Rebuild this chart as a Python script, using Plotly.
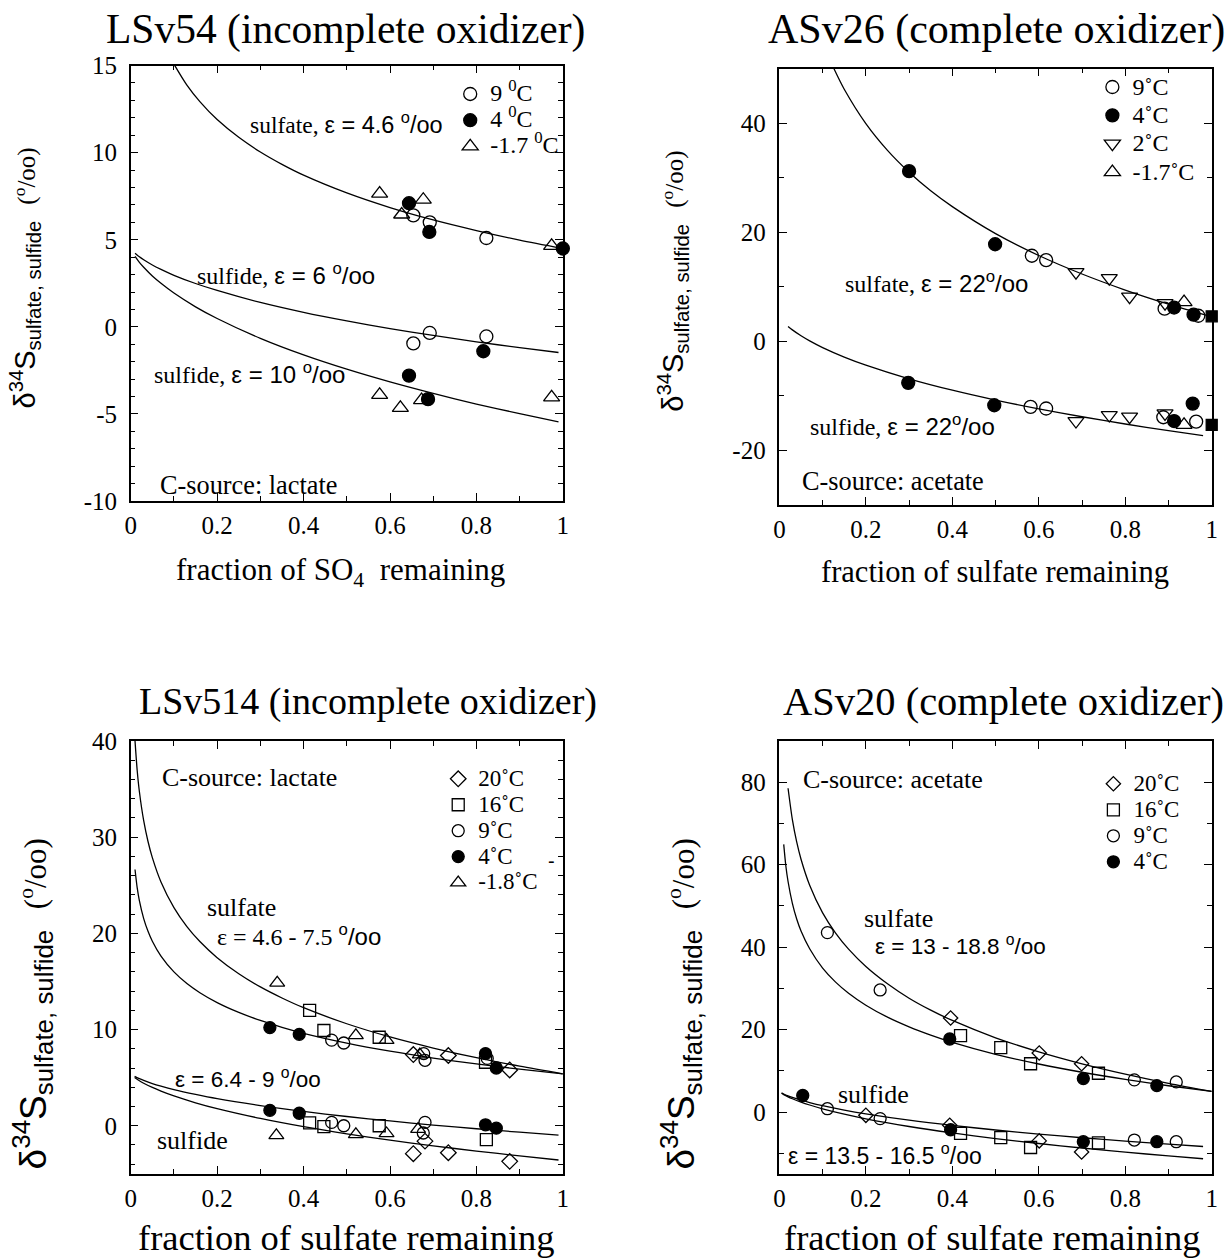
import plotly.graph_objects as go

W, H = 1232, 1259
SERIF = "Liberation Serif"
SANS = "Liberation Sans"
# observed page -> picture mapping of the photographing step (measured): pic = S*fig + B
SH, BH = 0.990, 6.3
SV, BV = 0.9774, 12.5

# ================= DATA =================
# ---- Panel A: LSv54 (incomplete oxidizer), sulfate then sulfide points ----
A_9C_f = [0.654, 0.692, 0.823, 0.654, 0.692, 0.823]
A_9C_d = [6.4, 6.0, 5.1, -0.95, -0.35, -0.55]
A_4C_f = [0.644, 0.691, 1.0, 0.644, 0.688, 0.816]
A_4C_d = [7.1, 5.45, 4.5, -2.8, -4.15, -1.4]
A_m17C_f = [0.576, 0.627, 0.677, 0.974, 0.576, 0.624, 0.673, 0.974]
A_m17C_d = [7.65, 6.45, 7.3, 4.65, -3.9, -4.65, -4.2, -4.05]
# curves
A_sulfate_f = [0.102, 0.13, 0.16, 0.2, 0.25, 0.3, 0.35, 0.4, 0.5, 0.6, 0.7, 0.8, 0.9, 1.0]
A_sulfate_d = [15.0, 13.88, 12.93, 11.90, 10.88, 10.04, 9.33, 8.71, 7.69, 6.85, 6.14, 5.53, 4.98, 4.5]
A_sulfide_f = [0.01, 0.02, 0.03, 0.05, 0.07, 0.1, 0.15, 0.2, 0.3, 0.4, 0.5, 0.6, 0.7, 0.8, 0.9, 0.99]
A_sulfide6_d = [4.22, 4.02, 3.85, 3.55, 3.30, 2.96, 2.49, 2.09, 1.40, 0.83, 0.34, -0.10, -0.49, -0.86, -1.19, -1.47]
A_sulfide10_d = [4.04, 3.70, 3.42, 2.92, 2.50, 1.94, 1.15, 0.48, -0.66, -1.61, -2.43, -3.16, -3.82, -4.43, -4.98, -5.45]

# ---- Panel B: ASv26 (complete oxidizer) ----
B_9C_f = [0.584, 0.617, 0.891, 0.969, 0.581, 0.617, 0.888, 0.964]
B_9C_d = [15.7, 14.9, 6.0, 4.7, -12.0, -12.3, -13.9, -14.7]
B_4C_f = [0.300, 0.499, 0.913, 0.958, 0.298, 0.497, 0.913, 0.956]
B_4C_d = [31.2, 17.8, 6.2, 4.9, -7.6, -11.7, -14.6, -11.4]
B_2C_f = [0.686, 0.763, 0.810, 0.892, 0.686, 0.763, 0.810, 0.892]
B_2C_d = [12.7, 11.6, 8.2, 7.0, -14.6, -13.5, -13.8, -13.2]
B_m17C_f = [0.936, 0.936]
B_m17C_d = [7.2, -15.3]
B_init_f = [1.0, 1.0]
B_init_d = [4.6, -15.3]
B_sulfate_f = [0.126, 0.15, 0.2, 0.25, 0.3, 0.35, 0.4, 0.5, 0.6, 0.7, 0.8, 0.9, 1.0]
B_sulfate_d = [50.0, 46.2, 39.9, 35.0, 31.0, 27.6, 24.7, 19.75, 15.74, 12.35, 9.41, 6.82, 4.5]
B_sulfide_f = [0.02, 0.03, 0.05, 0.07, 0.1, 0.15, 0.2, 0.3, 0.4, 0.5, 0.6, 0.7, 0.8, 0.9, 0.98]
B_sulfide_d = [2.74, 2.11, 1.03, 0.10, -1.13, -2.87, -4.35, -6.85, -8.94, -10.75, -12.36, -13.81, -15.14, -16.36, -17.28]

# ---- Panel C: LSv514 (incomplete oxidizer) ----
C_20C_f = [0.654, 0.735, 0.877, 0.654, 0.681, 0.735, 0.877]
C_20C_d = [7.4, 7.3, 5.8, -2.9, -1.6, -2.8, -3.7]
C_16C_f = [0.414, 0.447, 0.575, 0.821, 0.414, 0.447, 0.575, 0.823]
C_16C_d = [12.0, 9.9, 9.2, 6.6, 0.3, -0.1, 0.0, -1.45]
C_9C_f = [0.465, 0.493, 0.678, 0.681, 0.825, 0.465, 0.493, 0.681, 0.677]
C_9C_d = [8.9, 8.6, 7.5, 6.8, 7.0, 0.35, 0.0, 0.35, -0.75]
C_4C_f = [0.322, 0.390, 0.821, 0.846, 0.322, 0.390, 0.821, 0.846]
C_4C_d = [10.2, 9.5, 7.5, 6.0, 1.6, 1.3, 0.1, -0.25]
C_m18C_f = [0.339, 0.521, 0.592, 0.669, 0.337, 0.521, 0.592, 0.665]
C_m18C_d = [14.85, 9.4, 8.9, 7.4, -1.0, -0.9, -0.8, -0.35]
C_sulfate_f = [0.0099, 0.015, 0.02, 0.03, 0.04, 0.05, 0.07, 0.1, 0.13, 0.16, 0.2, 0.25, 0.3, 0.35, 0.4, 0.5, 0.6, 0.7, 0.8, 0.9, 1.0]
C_sulfate75_d = [40.0, 36.9, 34.74, 31.70, 29.54, 27.87, 25.34, 22.67, 20.70, 19.15, 17.47, 15.80, 14.43, 13.28, 12.27, 10.60, 9.23, 8.08, 7.07, 6.19, 5.4]
C_sulfate46_d = [26.63, 24.72, 23.40, 21.53, 20.21, 19.18, 17.63, 15.99, 14.78, 13.83, 12.80, 11.78, 10.94, 10.23, 9.61, 8.59, 7.75, 7.04, 6.43, 5.88, 5.4]
C_sulfide_f = [0.009, 0.02, 0.03, 0.05, 0.07, 0.1, 0.15, 0.2, 0.3, 0.4, 0.5, 0.6, 0.7, 0.8, 0.9, 0.99]
C_sulfide64_d = [5.13, 4.89, 4.71, 4.39, 4.12, 3.76, 3.26, 2.82, 2.10, 1.49, 0.96, 0.50, 0.07, -0.31, -0.67, -0.97]
C_sulfide9_d = [5.02, 4.68, 4.42, 3.98, 3.60, 3.10, 2.39, 1.78, 0.76, -0.10, -0.84, -1.50, -2.09, -2.63, -3.13, -3.56]

# ---- Panel D: ASv20 (complete oxidizer) ----
D_20C_f = [0.396, 0.601, 0.699, 0.200, 0.394, 0.601, 0.699]
D_20C_d = [22.8, 14.3, 11.7, -0.8, -3.2, -7.0, -9.7]
D_16C_f = [0.419, 0.512, 0.581, 0.738, 0.419, 0.512, 0.581, 0.738]
D_16C_d = [18.5, 15.6, 11.7, 9.4, -5.2, -6.2, -8.6, -7.5]
D_9C_f = [0.111, 0.233, 0.821, 0.918, 0.111, 0.233, 0.821, 0.918]
D_9C_d = [43.5, 29.6, 7.8, 7.3, 0.8, -1.6, -6.8, -7.2]
D_4C_f = [0.394, 0.703, 0.873, 0.054, 0.396, 0.703, 0.873]
D_4C_d = [17.7, 8.1, 6.4, 4.0, -4.3, -7.2, -7.2]
D_sulfate188_f = [0.02, 0.03, 0.04, 0.05, 0.07, 0.1, 0.13, 0.16, 0.2, 0.25, 0.3, 0.35, 0.4, 0.5, 0.6, 0.7, 0.8, 0.9, 1.0]
D_sulfate188_d = [78.5, 70.9, 65.5, 61.3, 55.0, 48.3, 43.4, 39.5, 35.3, 31.1, 27.6, 24.7, 22.2, 18.0, 14.6, 11.7, 9.2, 6.97, 5.0]
D_sulfate13_f = [0.01, 0.015, 0.02, 0.03, 0.04, 0.05, 0.07, 0.1, 0.13, 0.16, 0.2, 0.25, 0.3, 0.35, 0.4, 0.5, 0.6, 0.7, 0.8, 0.9, 1.0]
D_sulfate13_d = [64.9, 59.6, 55.9, 50.6, 46.8, 43.9, 39.6, 34.9, 31.5, 28.8, 25.9, 23.0, 20.65, 18.65, 16.9, 14.0, 11.64, 9.64, 7.90, 6.37, 5.0]
D_sulfide_f = [0.005, 0.01, 0.02, 0.03, 0.05, 0.07, 0.1, 0.15, 0.2, 0.3, 0.4, 0.5, 0.6, 0.7, 0.8, 0.9, 0.98]
D_sulfide135_d = [4.64, 4.37, 3.92, 3.54, 2.87, 2.30, 1.55, 0.48, -0.43, -1.97, -3.25, -4.36, -5.34, -6.24, -7.05, -7.80, -8.36]
D_sulfide165_d = [4.56, 4.23, 3.68, 3.21, 2.40, 1.70, 0.78, -0.52, -1.64, -3.51, -5.08, -6.44, -7.64, -8.73, -9.73, -10.65, -11.33]

# tick labels
X_TICKS = [0, 0.2, 0.4, 0.6, 0.8, 1]
X_TICKTEXT = ["0", "0.2", "0.4", "0.6", "0.8", "1"]
A_YTICKS = [-10, -5, 0, 5, 10, 15]
B_YTICKS = [-20, 0, 20, 40]
C_YTICKS = [0, 10, 20, 30, 40]
D_YTICKS = [0, 20, 40, 60, 80]

# ================= FIGURE =================
fig = go.Figure()


def fx(t):
    return (t - BH) / SH


def fy(t):
    return (t - BV) / SV


def px2x(t):
    return fx(t) / W


def py2y(t):
    return 1 - fy(t) / H


def curve(xs, ys, ax):
    fig.add_trace(go.Scatter(x=xs, y=ys, mode="lines", xaxis=ax[0], yaxis=ax[1],
                             line=dict(color="black", width=1.3, shape="spline", smoothing=0.8),
                             showlegend=False, hoverinfo="skip"))


def pts(xs, ys, ax, symbol, size, name, legend, show=True):
    fig.add_trace(go.Scatter(x=xs, y=ys, mode="markers", xaxis=ax[0], yaxis=ax[1],
                             marker=dict(symbol=symbol, size=size, color="black",
                                         line=dict(color="black", width=1.3)),
                             name=name, legend=legend, showlegend=show, cliponaxis=False))


AX_A, AX_B, AX_C, AX_D = ("x", "y"), ("x2", "y2"), ("x3", "y3"), ("x4", "y4")

# Panel A
curve(A_sulfate_f, A_sulfate_d, AX_A)
curve(A_sulfide_f, A_sulfide6_d, AX_A)
curve(A_sulfide_f, A_sulfide10_d, AX_A)
deg0 = '<span style="font-size:24px">%s <sup>0</sup>C</span>'
pts(A_9C_f, A_9C_d, AX_A, "circle-open", 13, deg0 % "9", "legend")
pts(A_4C_f, A_4C_d, AX_A, "circle", 13, deg0 % "4", "legend")
pts(A_m17C_f, A_m17C_d, AX_A, "triangle-up-open", 14, deg0 % "-1.7", "legend")

# Panel B
degr = '<span style="font-size:24px">%s˚C</span>'
curve(B_sulfate_f, B_sulfate_d, AX_B)
curve(B_sulfide_f, B_sulfide_d, AX_B)
pts(B_9C_f, B_9C_d, AX_B, "circle-open", 13, degr % "9", "legend2")
pts(B_4C_f, B_4C_d, AX_B, "circle", 13, degr % "4", "legend2")
pts(B_2C_f, B_2C_d, AX_B, "triangle-down-open", 14, degr % "2", "legend2")
pts(B_m17C_f, B_m17C_d, AX_B, "triangle-up-open", 14, degr % "-1.7", "legend2")
pts(B_init_f, B_init_d, AX_B, "square", 11, "initial", "legend2", show=False)

# Panel C
degc = '<span style="font-size:23px">%s˚C</span>'
curve(C_sulfate_f, C_sulfate75_d, AX_C)
curve(C_sulfate_f, C_sulfate46_d, AX_C)
curve(C_sulfide_f, C_sulfide64_d, AX_C)
curve(C_sulfide_f, C_sulfide9_d, AX_C)
pts(C_20C_f, C_20C_d, AX_C, "diamond-open", 12, degc % "20", "legend3")
pts(C_16C_f, C_16C_d, AX_C, "square-open", 12, degc % "16", "legend3")
pts(C_9C_f, C_9C_d, AX_C, "circle-open", 12, degc % "9", "legend3")
pts(C_4C_f, C_4C_d, AX_C, "circle", 12, degc % "4", "legend3")
pts(C_m18C_f, C_m18C_d, AX_C, "triangle-up-open", 13, degc % "-1.8", "legend3")

# Panel D
curve(D_sulfate188_f, D_sulfate188_d, AX_D)
curve(D_sulfate13_f, D_sulfate13_d, AX_D)
curve(D_sulfide_f, D_sulfide135_d, AX_D)
curve(D_sulfide_f, D_sulfide165_d, AX_D)
pts(D_20C_f, D_20C_d, AX_D, "diamond-open", 11, degc % "20", "legend4")
pts(D_16C_f, D_16C_d, AX_D, "square-open", 12, degc % "16", "legend4")
pts(D_9C_f, D_9C_d, AX_D, "circle-open", 12, degc % "9", "legend4")
pts(D_4C_f, D_4C_d, AX_D, "circle", 12, degc % "4", "legend4")


def xaxis(px0, px1, anchor):
    return dict(domain=[px2x(px0), px2x(px1)], anchor=anchor, range=[0, 1],
                tickmode="array", tickvals=X_TICKS, ticktext=X_TICKTEXT,
                showline=True, linecolor="black", linewidth=1.5, mirror="ticks",
                ticks="inside", ticklen=8, tickwidth=1.2, tickcolor="black",
                showgrid=False, zeroline=False, ticklabelstandoff=1,
                tickfont=dict(family=SERIF, size=25, color="black"),
                minor=dict(tick0=0, dtick=0.1, ticks="inside", ticklen=5, tickwidth=1.2,
                           tickcolor="black", showgrid=False))


def yaxis(py0, py1, anchor, rng, tv, mdt):
    return dict(domain=[py2y(py1), py2y(py0)], anchor=anchor, range=rng,
                tickmode="array", tickvals=tv, ticktext=[str(v) for v in tv],
                showline=True, linecolor="black", linewidth=1.5, mirror="ticks",
                ticks="inside", ticklen=8, tickwidth=1.2, tickcolor="black",
                showgrid=False, zeroline=False, ticklabelstandoff=7,
                tickfont=dict(family=SERIF, size=25, color="black"),
                minor=dict(tick0=0, dtick=mdt, ticks="inside", ticklen=5, tickwidth=1.2,
                           tickcolor="black", showgrid=False))


ann = []


def txt(x, y, text, xref, yref, size=25, family=SERIF, xanchor="left", angle=0):
    ann.append(dict(x=x, y=y, xref=xref, yref=yref, text=text, showarrow=False,
                    xanchor=xanchor, yanchor="middle", textangle=angle,
                    font=dict(family=family, size=size, color="black")))


SA = '<span style="font-family:Liberation Sans">%s</span>'
PERMIL = "<sup>o</sup>/oo"

# panel titles
txt(px2x(346), py2y(29), "LSv54 (incomplete oxidizer)", "paper", "paper", 41.5, xanchor="center")
txt(px2x(997), py2y(29), "ASv26 (complete oxidizer)", "paper", "paper", 42, xanchor="center")
txt(px2x(368), py2y(700), "LSv514 (incomplete oxidizer)", "paper", "paper", 38, xanchor="center")
txt(px2x(1004), py2y(700), "ASv20 (complete oxidizer)", "paper", "paper", 40.5, xanchor="center")

# x titles
txt(px2x(341), py2y(571), "fraction of SO<sub>4</sub>  remaining", "paper", "paper", 31, xanchor="center")
txt(px2x(995), py2y(571), "fraction of sulfate remaining", "paper", "paper", 30.5, xanchor="center")
txt(px2x(347), py2y(1236), "fraction of sulfate remaining", "paper", "paper", 36.5, xanchor="center")
txt(px2x(993), py2y(1236), "fraction of sulfate remaining", "paper", "paper", 36.5, xanchor="center")

# y titles
YT_TOP = ('δ<sup>34</sup>S<sub>sulfate, sulfide</sub>  '
          '<span style="font-family:Liberation Serif;font-size:25px">(' + PERMIL + ')</span>')
YT_BOT = ('δ<sup>34</sup>S<sub>sulfate, sulfide</sub>  '
          '<span style="font-family:Liberation Serif;font-size:31px">(' + PERMIL + ')</span>')
txt(px2x(25), py2y(277), YT_TOP, "paper", "paper", 29, SANS, "center", -90)
txt(px2x(673), py2y(280), YT_TOP, "paper", "paper", 29, SANS, "center", -90)
txt(px2x(33), py2y(1002), YT_BOT, "paper", "paper", 37, SANS, "center", -90)
txt(px2x(681), py2y(1002), YT_BOT, "paper", "paper", 37, SANS, "center", -90)

# in-plot labels, panel A
txt(0.2716, 11.7, "sulfate, " + SA % ("ε = 4.6 " + PERMIL), "x", "y", 23.5)
txt(0.148, 3.05, "sulfide, " + SA % ("ε = 6 " + PERMIL), "x", "y", 24)
txt(0.050, -2.65, "sulfide, " + SA % ("ε = 10 " + PERMIL), "x", "y", 24)
txt(0.063, -9.1, "C-source: lactate", "x", "y", 26.3)
# panel B
txt(0.147, 10.8, "sulfate, " + SA % ("ε = 22" + PERMIL), "x2", "y2", 24)
txt(0.066, -15.3, "sulfide, " + SA % ("ε = 22" + PERMIL), "x2", "y2", 24)
txt(0.047, -25.6, "C-source: acetate", "x2", "y2", 26.3)
# panel C
txt(0.067, 36.2, "C-source: lactate", "x3", "y3", 26)
txt(0.171, 22.7, "sulfate", "x3", "y3", 26)
txt(0.194, 19.8, "ε = 4.6 - 7.5 " + SA % PERMIL, "x3", "y3", 24)
txt(0.097, 5.0, SA % ("ε = 6.4 - 9 " + PERMIL), "x3", "y3", 22.5)
txt(0.056, -1.5, "sulfide", "x3", "y3", 26)
txt(0.962, 27.5, "-", "x3", "y3", 20, SANS)
# panel D
txt(0.051, 80.6, "C-source: acetate", "x4", "y4", 26)
txt(0.191, 47.0, "sulfate", "x4", "y4", 26)
txt(0.216, 40.5, SA % ("ε = 13 - 18.8 " + PERMIL), "x4", "y4", 22.5)
txt(0.130, 4.2, "sulfide", "x4", "y4", 26)
txt(0.015, -10.2, SA % ("ε = 13.5 - 16.5 " + PERMIL), "x4", "y4", 23)


def leg(text_left, row1, fsize):
    item_h = 1.3 * fsize + 3
    return dict(x=(fx(text_left) - 40) / W, y=1 - (fy(row1) - 5 - item_h / 2) / H,
                xanchor="left", yanchor="top",
                bgcolor="rgba(0,0,0,0)", borderwidth=0,
                font=dict(family=SERIF, size=fsize, color="black"))


fig.update_layout(
    width=W, height=H, margin=dict(l=0, r=0, t=0, b=0),
    paper_bgcolor="white", plot_bgcolor="white",
    xaxis=xaxis(131, 563, "y"),
    yaxis=yaxis(65, 500, "x", [-10, 15], A_YTICKS, 1),
    xaxis2=xaxis(779.5, 1211.7, "y2"),
    yaxis2=yaxis(68, 504, "x2", [-30, 50], B_YTICKS, 10),
    xaxis3=xaxis(131, 563, "y3"),
    yaxis3=yaxis(739.5, 1172, "x3", [-5, 40], C_YTICKS, 2),
    xaxis4=xaxis(779.5, 1211.7, "y4"),
    yaxis4=yaxis(739.5, 1172, "x4", [-15, 90], D_YTICKS, 10),
    legend=leg(490, 93, 17.85),
    legend2=leg(1132, 86, 19.5),
    legend3=leg(478, 777, 17.65),
    legend4=leg(1133, 782, 17.7),
    annotations=ann,
    showlegend=True,
)

fig.write_html("out.html", config={"displayModeBar": False},
               post_script="document.body.style.margin='0';document.body.style.overflow='hidden';")
